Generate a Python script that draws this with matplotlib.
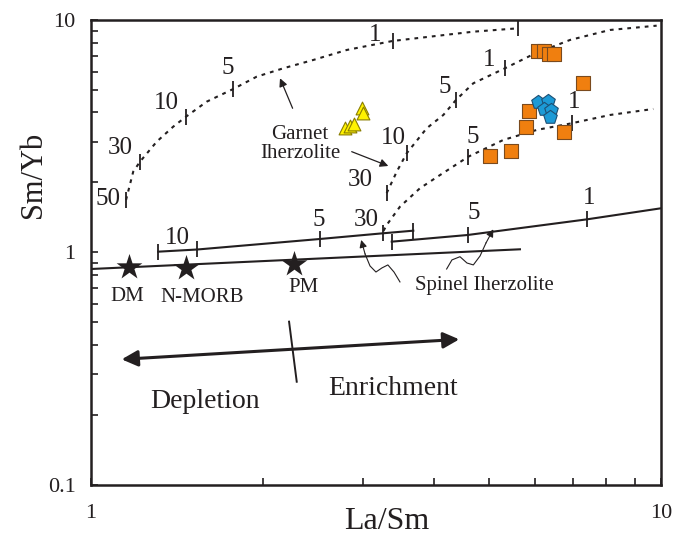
import matplotlib
matplotlib.use('Agg')  # no display
import matplotlib.pyplot as plt
from matplotlib.ticker import NullFormatter

plt.rcParams['font.family'] = ['Liberation Serif', 'DejaVu Serif']

INK = '#231f20'

# --- samples ---
orange_x = [6.08, 6.23, 6.37, 6.49, 7.29, 5.87, 5.80, 6.77, 5.45, 5.02]
orange_y = [7.36, 7.36, 7.12, 7.16, 5.34, 4.07, 3.46, 3.31, 2.73, 2.60]
blue_x = [6.09, 6.33, 6.23, 6.41, 6.40]
blue_y = [4.45, 4.48, 4.13, 4.10, 3.84]
yellow_x = [2.99, 3.00, 2.79, 2.85, 2.89]
yellow_y = [4.20, 3.99, 3.44, 3.51, 3.57]

# --- reference reservoirs ---
ref_names = ['DM', 'N-MORB', 'PM']
ref_x = [1.167, 1.468, 2.27]
ref_y = [0.864, 0.855, 0.892]
ref_lab_x = [1.157, 1.564, 2.355]
ref_lab_y = [0.645, 0.643, 0.704]
mix_x = [1.0, 5.657]
mix_y = [0.849, 1.032]

# --- garnet lherzolite melting curves (dotted) ---
gt1_x = [1.152, 1.186, 1.219, 1.304, 1.394, 1.468, 1.596, 1.777, 1.953, 2.175,
         2.455, 2.810, 3.383, 3.933, 4.686, 5.618]
gt1_y = [1.682, 2.226, 2.458, 2.996, 3.476, 3.838, 4.453, 5.050, 5.704, 6.198,
         6.73, 7.43, 8.124, 8.476, 8.906, 9.21]
gt1_tick_x = [1.152, 1.219, 1.468, 1.777, 3.383, 5.618]
gt1_tick_y = [1.682, 2.458, 3.838, 5.050, 8.124, 9.21]
gt1_labels = ['50', '30', '10', '5', '1']
gt1_lab_x = [1.071, 1.124, 1.354, 1.739, 3.149]
gt1_lab_y = [1.699, 2.815, 4.395, 6.216, 8.621]

gt2_x = [3.302, 3.439, 3.580, 3.881, 4.151, 4.369, 4.686, 5.325, 5.970, 6.924,
         8.138, 9.828]
gt2_y = [1.80, 2.226, 2.671, 3.421, 3.903, 4.529, 5.343, 6.198, 7.12, 8.204,
         9.058, 9.452]
gt2_tick_x = [3.302, 3.580, 4.369, 5.325]
gt2_tick_y = [1.80, 2.671, 4.529, 6.198]
gt2_labels = ['30', '10', '5', '1']
gt2_lab_x = [2.965, 3.388, 4.179, 4.998]
gt2_lab_y = [2.050, 3.117, 5.166, 6.730]

gt3_x = [3.259, 3.302, 3.484, 3.777, 4.097, 4.592, 5.288, 6.052, 6.971, 8.138, 9.694]
gt3_y = [1.237, 1.313, 1.574, 1.889, 2.154, 2.582, 3.047, 3.365, 3.595, 3.903, 4.142]
gt3_tick_x = [4.592, 6.971]
gt3_tick_y = [2.582, 3.595]
gt3_labels = ['5', '1']
gt3_lab_x = [4.679, 7.037]
gt3_lab_y = [3.139, 4.427]

# --- spinel lherzolite melting curves (solid) ---
sp1_x = [1.312, 1.537, 2.522, 3.249, 3.677]
sp1_y = [1.008, 1.030, 1.143, 1.209, 1.241]
sp1_labels = ['10', '5', '30']
sp1_lab_x = [1.417, 2.505, 3.045]
sp1_lab_y = [1.151, 1.380, 1.380]

sp2_x = [3.370, 4.580, 7.425, 10.0]
sp2_y = [1.113, 1.189, 1.389, 1.549]
sp2_labels = ['5', '1']
sp2_lab_x = [4.686, 7.484]
sp2_lab_y = [1.474, 1.711]

# --- annotation paths ---
wave1_x = [3.484, 3.401, 3.318, 3.239, 3.162, 3.087, 3.026, 2.979]
wave1_y = [0.747, 0.824, 0.884, 0.858, 0.824, 0.875, 0.985, 1.132]
wave2_x = [4.207, 4.298, 4.440, 4.567, 4.686, 4.815, 4.932, 5.080]
wave2_y = [0.849, 0.929, 0.959, 0.901, 0.884, 0.966, 1.099, 1.258]

fig = plt.figure(figsize=(6.75, 5.4), dpi=100)
ax = fig.add_axes([0.1348, 0.1019, 0.8444, 0.8611])
ax.set_xscale('log')
ax.set_yscale('log')
ax.set_xlim(1, 10)
ax.set_ylim(0.1, 10)

dot = dict(color=INK, lw=1.5, ls=(0, (1.8, 2.4)))
for cx, cy in [(gt1_x, gt1_y), (gt2_x, gt2_y), (gt3_x, gt3_y)]:
    ax.plot(cx, cy, **dot, zorder=2)
for tx, ty in [(gt1_tick_x, gt1_tick_y), (gt2_tick_x, gt2_tick_y), (gt3_tick_x, gt3_tick_y)]:
    ax.plot(tx, ty, ls='none', marker='|', ms=11, mew=1.3, color=INK, zorder=2)

ax.plot(sp1_x, sp1_y, color=INK, lw=1.5, marker='|', ms=12, mew=1.3, zorder=2)
ax.plot(sp2_x[:-1], sp2_y[:-1], ls='none', marker='|', ms=12, mew=1.3, color=INK, zorder=2)
ax.plot(sp2_x, sp2_y, color=INK, lw=1.5, zorder=2)
ax.plot(mix_x, mix_y, color=INK, lw=1.5, zorder=2)

num = dict(fontsize=18, ha='center', va='center', color=INK)
for labs, lx, ly in [(gt1_labels, gt1_lab_x, gt1_lab_y), (gt2_labels, gt2_lab_x, gt2_lab_y),
                     (gt3_labels, gt3_lab_x, gt3_lab_y), (sp1_labels, sp1_lab_x, sp1_lab_y),
                     (sp2_labels, sp2_lab_x, sp2_lab_y)]:
    for t, x, y in zip(labs, lx, ly):
        ax.text(x, y, t, **num)

# samples
ax.scatter(yellow_x, yellow_y, marker='^', s=85, c='#fff200', edgecolors='#8a7d00',
           linewidths=0.8, zorder=4)
ax.scatter(orange_x, orange_y, marker='s', s=90, c='#f07f0f', edgecolors='#7a4a1e',
           linewidths=0.8, zorder=4)
ax.scatter(blue_x, blue_y, marker='p', s=105, c='#1c9ad6', edgecolors='#1d4f73',
           linewidths=0.8, zorder=5)

ax.scatter(ref_x, ref_y, marker='*', s=380, c=INK, linewidths=0, zorder=4)
for t, x, y in zip(ref_names, ref_lab_x, ref_lab_y):
    ax.text(x, y, t, fontsize=15, ha='center', va='center', color=INK)

# garnet / spinel captions
ax.text(2.326, 2.929, 'Garnet\nIherzolite', fontsize=15, ha='center', va='center',
        linespacing=1.05, color=INK)
thin = dict(arrowstyle='-|>', lw=0.9, color=INK, mutation_scale=12, shrinkA=0, shrinkB=0)
ax.annotate('', xy=(2.146, 5.614), xytext=(2.258, 4.171), arrowprops=thin)
ax.annotate('', xy=(3.324, 2.355), xytext=(2.867, 2.714), arrowprops=thin)

ax.text(4.891, 0.718, 'Spinel Iherzolite', fontsize=15, ha='center', va='center', color=INK)
for wx, wy in [(wave1_x, wave1_y), (wave2_x, wave2_y)]:
    ax.plot(wx[:-1], wy[:-1], color=INK, lw=0.8)
    ax.annotate('', xy=(wx[-1], wy[-1]), xytext=(wx[-2], wy[-2]),
                arrowprops=dict(arrowstyle='-|>', lw=0.8, color=INK, mutation_scale=11,
                                shrinkA=0, shrinkB=0))

# depletion / enrichment
ax.annotate('', xy=(4.427, 0.423), xytext=(1.132, 0.347),
            arrowprops=dict(arrowstyle='<|-|>', lw=2.2, color=INK, mutation_scale=24,
                            shrinkA=0, shrinkB=0))
ax.plot([2.226, 2.296], [0.504, 0.278], color=INK, lw=1.4)
ax.text(1.585, 0.228, 'Depletion', fontsize=20, ha='center', va='center', color=INK)
ax.text(3.392, 0.261, 'Enrichment', fontsize=20, ha='center', va='center', color=INK)

# axes styling
ax.set_xticks([1, 10])
ax.set_xticklabels(['1', '10'])
ax.set_yticks([0.1, 1, 10])
ax.set_yticklabels(['0.1', '1', '10'])
ax.xaxis.set_minor_formatter(NullFormatter())
ax.yaxis.set_minor_formatter(NullFormatter())
ax.tick_params(which='both', direction='in', top=False, right=False, length=5,
               width=1.2, colors=INK, labelsize=16)
ax.tick_params(axis='x', which='major', pad=14)
ax.tick_params(axis='y', which='major', pad=11)
for s in ax.spines.values():
    s.set_linewidth(1.8)
    s.set_color(INK)

ax.set_xlabel('La/Sm', fontsize=23, color=INK)
ax.set_ylabel('Sm/Yb', fontsize=22, color=INK)
ax.xaxis.set_label_coords(0.519, -0.047)
ax.yaxis.set_label_coords(-0.075, 0.667)

fig.savefig('out.png', dpi=100)
